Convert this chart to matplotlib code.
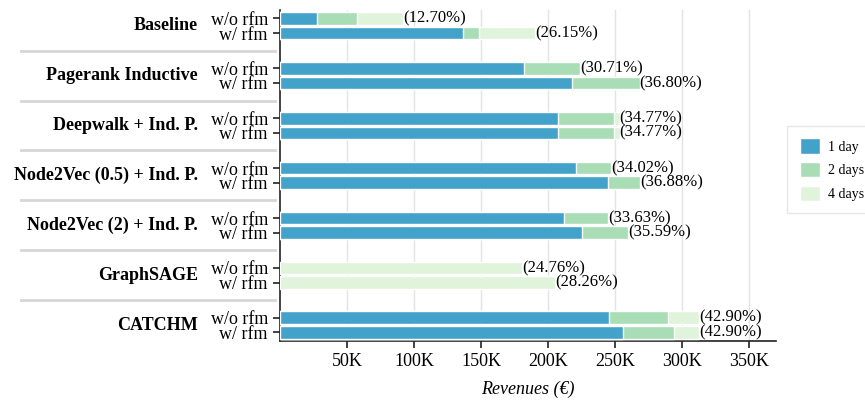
import matplotlib
matplotlib.use('Agg')
import matplotlib.pyplot as plt
import matplotlib.transforms as mtransforms
from matplotlib.patches import Patch

plt.rcParams['font.family'] = ['Liberation Serif', 'DejaVu Serif']

# cumulative revenues (K euro) after 1, 2 and 4 days, [w/o rfm, w/ rfm] per model
models = ['Baseline', 'Pagerank Inductive', 'Deepwalk + Ind. P.',
          'Node2Vec (0.5) + Ind. P.', 'Node2Vec (2) + Ind. P.', 'GraphSAGE', 'CATCHM']
rev_1day = [[27.6, 136.6], [181.8, 217.9], [207.2, 207.2], [221.1, 244.8],
            [212.2, 225.6], [0, 0], [245.7, 256.0]]
rev_2days = [[57.5, 148.7], [223.6, 268.1], [249.0, 249.0], [247.2, 268.4],
             [244.8, 259.4], [0, 0], [289.6, 294.0]]
rev_4days = [[92.2, 190.5], [223.6, 268.1], [253.2, 253.2], [247.2, 268.4],
             [244.8, 259.4], [180.6, 205.4], [312.4, 312.4]]
pct_labels = [['(12.70%)', '(26.15%)'], ['(30.71%)', '(36.80%)'], ['(34.77%)', '(34.77%)'],
              ['(34.02%)', '(36.88%)'], ['(33.63%)', '(35.59%)'], ['(24.76%)', '(28.26%)'],
              ['(42.90%)', '(42.90%)']]
variants = ['w/o rfm', 'w/ rfm']
colors = {'1 day': '#43a2ca', '2 days': '#a8ddb5', '4 days': '#e0f3db'}

fig = plt.figure(figsize=(8.65, 4.01), dpi=100)
ax = fig.add_axes([0.3234, 0.150, 0.5740, 0.825])

gap = 3.4
bar_h = 0.86
ypos, ylabels = [], []
for i, m in enumerate(models):
    for j in range(2):
        y = i * gap + j
        ypos.append(y)
        ylabels.append(variants[j])
        # longest period drawn first so the shorter ones sit on top
        for vals, key in [(rev_4days, '4 days'), (rev_2days, '2 days'), (rev_1day, '1 day')]:
            v = vals[i][j] * 1000
            if v > 0:
                ax.barh(y, v, height=bar_h, color=colors[key], edgecolor='white',
                        linewidth=1, zorder=3)
        ax.text(rev_4days[i][j] * 1000, y, pct_labels[i][j], ha='left', va='center',
                fontsize=12, zorder=4)

ax.set_yticks(ypos)
ax.set_yticklabels(ylabels, fontsize=13)
ax.set_ylim(-0.57, (len(models) - 1) * gap + 1.57)
ax.invert_yaxis()

ax.set_xlim(0, 370000)
xt = [50000, 100000, 150000, 200000, 250000, 300000, 350000]
ax.set_xticks(xt)
ax.set_xticklabels([str(int(t / 1000)) + 'K' for t in xt], fontsize=13)
ax.set_xlabel('Revenues (€)', fontsize=13, style='italic', labelpad=8)

ax.grid(axis='x', color='#e3e3e3', linewidth=1, zorder=0)
for s in ['top', 'right']:
    ax.spines[s].set_visible(False)
for s in ['left', 'bottom']:
    ax.spines[s].set_color('#222222')
    ax.spines[s].set_linewidth(1.2)
ax.tick_params(axis='both', length=5, width=1.2, color='#222222')

# group names and separators, left of the axis
trans = mtransforms.blended_transform_factory(ax.transAxes, ax.transData)
for i, m in enumerate(models):
    ax.text(-0.1646, i * gap + 0.5, m, transform=trans, ha='right', va='center',
            fontsize=13, fontweight='bold')
    if i < len(models) - 1:
        ysep = i * gap + 1 + (gap - 1) / 2
        ax.plot([-0.521, -0.0095], [ysep, ysep], transform=trans, color='#d6d6d6',
                linewidth=2, clip_on=False)

handles = [Patch(facecolor=colors[k], edgecolor='white', label=k) for k in colors]
fig.legend(handles=handles, loc='upper left', bbox_to_anchor=(787 / 865, 1 - 126 / 401),
           fontsize=10, frameon=True, fancybox=False, edgecolor='#e0e0e0',
           handlelength=1.45, handleheight=1.3, labelspacing=0.6, borderpad=0.9,
           borderaxespad=0, handletextpad=0.6)

fig.savefig('out.png', dpi=100)
